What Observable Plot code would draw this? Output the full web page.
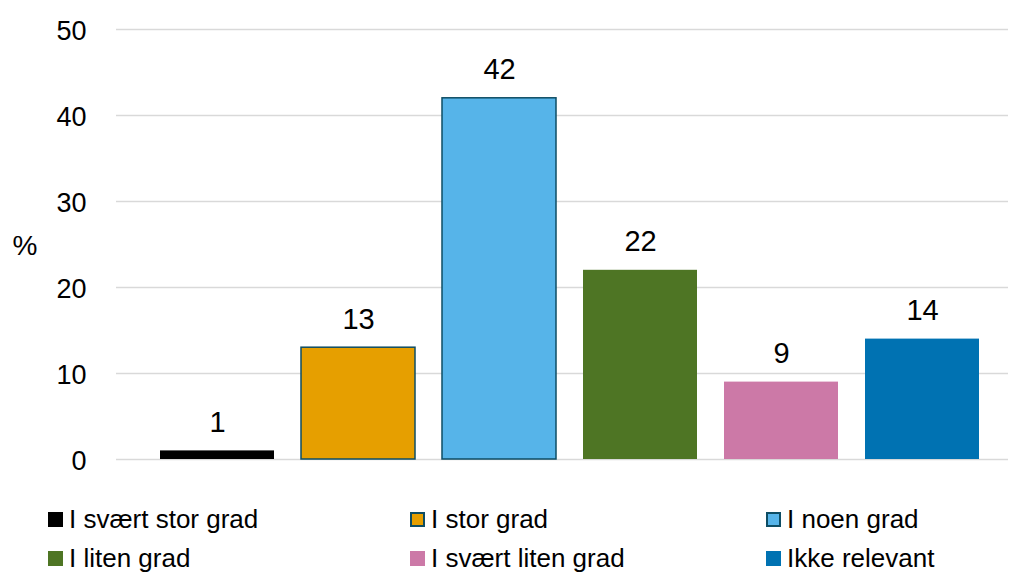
<!DOCTYPE html>
<html><head><meta charset="utf-8">
<script src="https://cdn.jsdelivr.net/npm/d3@7"></script>
<script src="https://cdn.jsdelivr.net/npm/@observablehq/plot@0.6"></script>
<style>
body{margin:0;background:#fff;font-family:"Liberation Sans",Arial,sans-serif;}
#wrap{position:relative;width:1009px;height:574px;}
#legend{position:absolute;left:48px;top:500px;display:grid;grid-template-columns:362px 356px 240px;grid-auto-rows:39px;font-size:26px;color:#000;}
.item{display:flex;align-items:center;white-space:nowrap;}
.sw{width:15px;height:15px;margin-right:6px;box-sizing:border-box;}
</style></head>
<body><div id="wrap"><div id="chart"></div><div id="legend"></div></div>
<script>
const categories = ["I svært stor grad","I stor grad","I noen grad","I liten grad","I svært liten grad","Ikke relevant"];
const values = [1,13,42,22,9,14];
const colors = ["#000000","#E69F00","#56B4E9","#4E7524","#CC79A7","#0072B2"];
const strokes = ["none","#0E4D64","#0E4D64","none","none","none"];
const yTicks = [0,10,20,30,40,50];

const data = categories.map((c,i)=>({cat:c,value:values[i],fill:colors[i],stroke:strokes[i]}));

const chart = Plot.plot({
  width:1009, height:490,
  marginLeft:116, marginRight:1, marginTop:29, marginBottom:31,
  style:{fontFamily:"'Liberation Sans', Arial, sans-serif", fontSize:"27px", color:"#000", background:"#fff"},
  x:{type:"band", domain:categories, range:[159,980], paddingInner:0.194, paddingOuter:0, axis:null},
  y:{domain:[0,50], ticks:yTicks, label:null},
  marks:[
    Plot.ruleY(yTicks,{stroke:"#d9d9d9", strokeWidth:1.5}),
    Plot.axisY({ticks:yTicks, tickSize:0, tickPadding:30, label:null, fontSize:27, dy:2}),
    Plot.barY(data,{x:"cat", y:"value", fill:d=>d.fill, stroke:d=>d.stroke, strokeWidth:1.5}),
    Plot.text(data,{x:"cat", y:"value", text:d=>String(d.value), lineAnchor:"bottom", dy:-19, fontSize:29, fill:"#000"}),
    Plot.text(["%"],{frameAnchor:"left", dx:-104, textAnchor:"start", fontSize:28, fill:"#000", dy:2})
  ]
});
document.getElementById("chart").appendChild(chart);

const legend = document.getElementById("legend");
data.forEach(d=>{
  const it=document.createElement("div"); it.className="item";
  const sw=document.createElement("span"); sw.className="sw"; sw.style.background=d.fill;
  if(d.stroke!=="none") sw.style.border="2px solid "+d.stroke;
  const t=document.createElement("span"); t.textContent=d.cat;
  it.appendChild(sw); it.appendChild(t); legend.appendChild(it);
});
</script></body></html>
